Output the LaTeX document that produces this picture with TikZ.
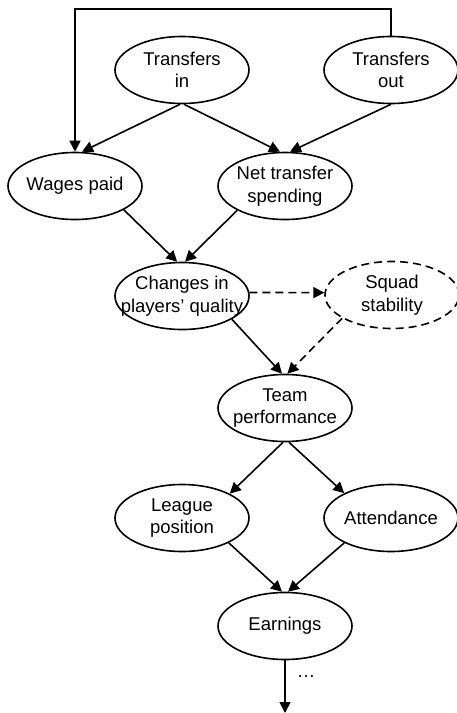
\documentclass[tikz,border=0pt]{standalone}
\usepackage{fontspec}
\setmainfont{Liberation Sans}
\usetikzlibrary{shapes.geometric,arrows.meta}
\begin{document}
\begin{tikzpicture}[x=1pt,y=-1pt,
  ell/.style={ellipse,draw,line width=1.6pt,minimum width=134pt,minimum height=67pt,inner sep=0pt},
  dell/.style={ell,dash pattern=on 8pt off 5pt},
  txt/.style={inner sep=0pt,align=center,font=\fontsize{18.5}{22.5}\selectfont},
  arr/.style={line width=1.6pt,-{Triangle[length=11pt,width=11pt]}},
  darr/.style={arr,dash pattern=on 8pt off 5pt}]
\useasboundingbox (0,0) rectangle (457,713);
\node[ell] (tin) at (182,70) {};
\node[txt] (tinT) at (tin) {Transfers\\in};
\node[ell] (tout) at (391,70) {};
\node[txt] (toutT) at (tout) {Transfers\\out};
\node[ell] (wages) at (75,186) {};
\node[txt] (wagesT) at (wages) {Wages paid};
\node[ell] (net) at (285,186) {};
\node[txt] (netT) at (net) {Net transfer\\spending};
\node[ell] (chg) at (182,296) {};
\node[txt] (chgT) at (chg) {Changes in\\players’ quality};
\node[dell] (squad) at (392,295) {};
\node[txt] (squadT) at (squad) {Squad\\stability};
\node[ell] (team) at (285,408) {};
\node[txt] (teamT) at (team) {Team\\performance};
\node[ell] (league) at (182,518) {};
\node[txt] (leagueT) at (league) {League\\position};
\node[ell] (att) at (391,518) {};
\node[txt] (attT) at (att) {Attendance};
\node[ell] (earn) at (285,626) {};
\node[txt] (earnT) at (earn) {Earnings};
\coordinate (out) at (285,713);
\node[txt] (dots) at (306,677) {…};
\draw[arr] (tout.north) -- (tout.north |- 0,9) -| (wages.north);
\draw[arr] ([xshift=-2pt]tin.south) -- ([xshift=7pt]wages.north);
\draw[arr] ([xshift=2pt]tin.south) -- ([xshift=-5pt]net.north);
\draw[arr] (tout.south) -- ([xshift=5pt]net.north);
\draw[arr] (wages.-26) -- (chg.98);
\draw[arr] (net.207) -- (chg.85);
\draw[darr] (chg.3) -- (squad.178);
\draw[darr] (squad.205) -- (team.86);
\draw[arr] (chg.-25) -- (team.95);
\draw[arr] ([xshift=-2pt]team.south) -- (league.27);
\draw[arr] ([xshift=4pt]team.south) -- (att.152);
\draw[arr] (league.-28) -- (earn.95);
\draw[arr] (att.208) -- (earn.85);
\draw[arr] (earn.south) -- (out);
\end{tikzpicture}
\end{document}
